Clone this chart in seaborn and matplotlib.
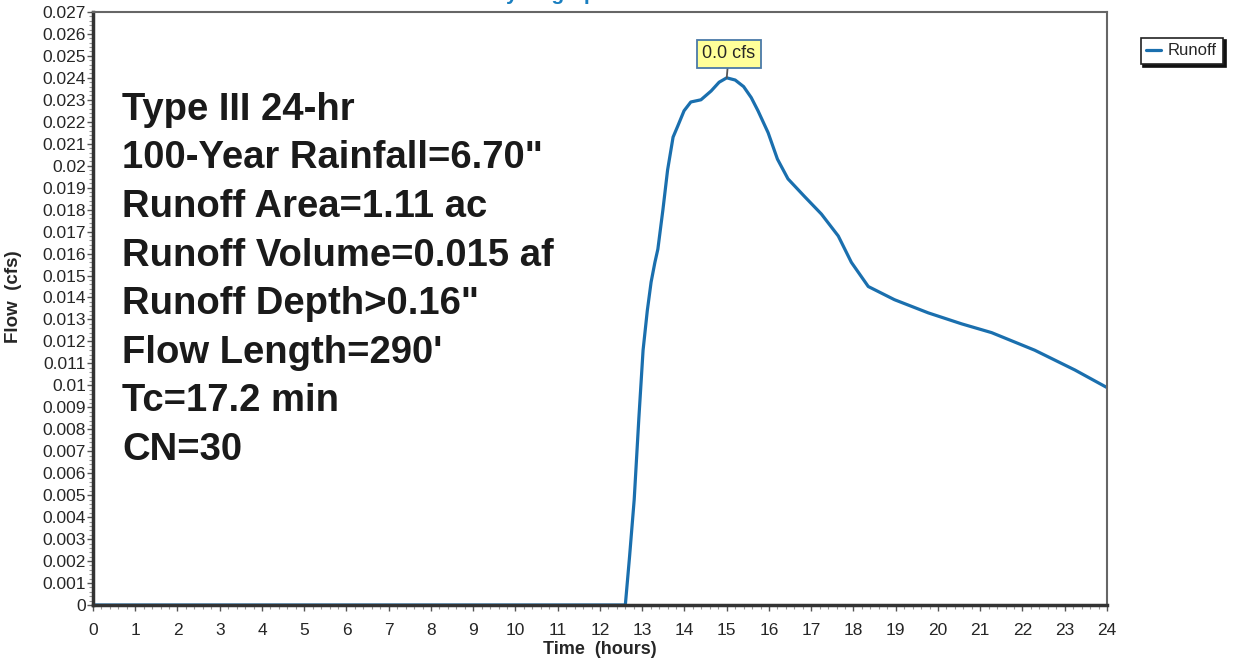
import matplotlib
matplotlib.use("Agg")
import matplotlib.pyplot as plt
import seaborn as sns
from matplotlib.ticker import MultipleLocator, FuncFormatter

# Runoff hydrograph values
time_hr = [0.0, 12.0, 12.6, 12.7, 12.81, 12.92, 13.02, 13.12, 13.21, 13.3, 13.37, 13.49,
           13.6, 13.73, 13.84, 13.99, 14.15, 14.39, 14.63, 14.82, 15.0, 15.2, 15.4,
           15.58, 15.74, 15.98, 16.2, 16.45, 16.84, 17.24, 17.64, 17.95, 18.35,
           18.97, 19.77, 20.56, 21.27, 22.29, 23.24, 24.0]
flow_cfs = [0.0, 0.0, 0.0, 0.0022, 0.0048, 0.0085, 0.0116, 0.0134, 0.0147, 0.0156, 0.0162, 0.0180,
            0.0198, 0.0213, 0.0218, 0.0225, 0.0229, 0.0230, 0.0234, 0.0238, 0.0240, 0.0239, 0.0236,
            0.0231, 0.0225, 0.0215, 0.0203, 0.0194, 0.0186, 0.0178, 0.0168, 0.0156, 0.0145,
            0.0139, 0.0133, 0.0128, 0.0124, 0.0116, 0.0107, 0.0099]

info_lines = ["Type III 24-hr", "100-Year Rainfall=6.70\"", "Runoff Area=1.11 ac",
              "Runoff Volume=0.015 af", "Runoff Depth>0.16\"", "Flow Length=290'",
              "Tc=17.2 min", "CN=30"]
peak_label = "0.0 cfs"

sns.set_style("white")
plt.rcParams['font.family'] = ['Liberation Sans', 'DejaVu Sans']

fig = plt.figure(figsize=(12.33, 6.59), dpi=100)
ax = fig.add_axes([0.0754, 0.0819, 0.8224, 0.9])

line_color = '#1a6fae'
sns.lineplot(x=time_hr, y=flow_cfs, ax=ax, color=line_color, linewidth=2.3,
             label='Runoff', legend=False)

ax.set_xlim(0, 24)
ax.set_ylim(0, 0.027)
ax.xaxis.set_major_locator(MultipleLocator(1))
ax.xaxis.set_minor_locator(MultipleLocator(0.2))
ax.yaxis.set_major_locator(MultipleLocator(0.001))
ax.yaxis.set_minor_locator(MultipleLocator(0.0002))
ax.yaxis.set_major_formatter(FuncFormatter(lambda v, p: f"{round(v, 3):g}"))
ax.tick_params(axis='both', which='major', direction='out', length=4, width=1,
               color='#555555', labelsize=12.5, left=True, bottom=True)
ax.tick_params(axis='y', which='major', pad=1)
ax.tick_params(axis='x', which='major', pad=9)
ax.tick_params(axis='both', which='minor', direction='out', length=3, width=0.8,
               color='#999999', left=True, bottom=True)

for side in ['left', 'bottom']:
    ax.spines[side].set_linewidth(2.5)
    ax.spines[side].set_color('#333333')
for side in ['top', 'right']:
    ax.spines[side].set_linewidth(1.5)
    ax.spines[side].set_color('#666666')

ax.set_xlabel('Time  (hours)', fontsize=13, fontweight='bold', labelpad=2)
ax.set_ylabel('Flow  (cfs)', fontsize=13.5, fontweight='bold', labelpad=10)
ax.yaxis.set_label_coords(-0.07, 0.52)

# Info block
for i, txt in enumerate(info_lines):
    ax.text(0.029, 0.818 - i * 0.0819, txt, transform=ax.transAxes, fontsize=27.5,
            fontweight='bold', color='#1a1a1a', va='baseline', ha='left')

# Peak annotation
ax.annotate(peak_label, xy=(time_hr[20], flow_cfs[20]), xytext=(time_hr[20] + 0.05, 0.0251),
            ha='center', va='center', fontsize=13,
            bbox=dict(boxstyle='square,pad=0.3', fc='#ffff99', ec='#4a7aa8', lw=1.3),
            arrowprops=dict(arrowstyle='-', color='#555555', lw=1.3, shrinkA=0, shrinkB=0))

# Title, cut off at top of page as in the scan
fig.text(0.447, 1.0, 'Hydrograph', fontsize=15, color='#1a7fc0', fontweight='bold',
         ha='center', va='baseline')

leg = fig.legend(loc='upper left', bbox_to_anchor=(0.925, 0.943), fontsize=12,
                 frameon=True, fancybox=False, shadow={'color': '#111111', 'alpha': 1},
                 handlelength=0.9, handletextpad=0.4, borderpad=0.35, borderaxespad=0)
leg.get_frame().set_edgecolor('#222222')
leg.get_frame().set_linewidth(1.2)

fig.savefig('out.png', dpi=100)
